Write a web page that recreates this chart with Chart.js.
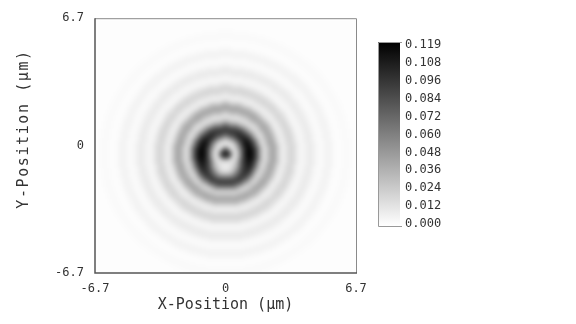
<!DOCTYPE html>
<html>
<head>
<meta charset="utf-8">
<script src="https://cdn.jsdelivr.net/npm/chart.js@4.4.1/dist/chart.umd.min.js"></script>
<style>
  body { margin: 0; background: #fff; }
  #wrap { width: 576px; height: 324px; }
</style>
</head>
<body>
<div id="wrap"><canvas id="field" width="576" height="324"></canvas></div>
<script>
// axis range (µm) and tick labels
const axisMin = -6.7;
const axisMax = 6.7;
const axisTicks = [-6.7, 0, 6.7];

// colour scale
const colorMax = 0.119;
const colorTicks = ['0.119', '0.108', '0.096', '0.084', '0.072', '0.060', '0.048', '0.036', '0.024', '0.012', '0.000'];

// spot centre (µm)
const centerX = 0.0;
const centerY = -0.44;

// intensity cross-sections, one sample every 0.2 µm from the centre
const radiusStep = 0.2;
const profileSide = [0.119, 0.095, 0.015, 0.020, 0.065, 0.105, 0.119, 0.110, 0.080, 0.035,
  0.012, 0.030, 0.044, 0.033, 0.012, 0.007, 0.016, 0.020, 0.013, 0.004,
  0.004, 0.009, 0.010, 0.005, 0.002, 0.003, 0.006, 0.005, 0.002, 0.001,
  0.002, 0.003, 0.002, 0.001, 0.001, 0.001];
const profileUp = [0.119, 0.090, 0.018, 0.010, 0.035, 0.075, 0.092, 0.080, 0.045, 0.018,
  0.014, 0.032, 0.044, 0.033, 0.012, 0.007, 0.016, 0.020, 0.013, 0.004,
  0.004, 0.009, 0.010, 0.005, 0.002, 0.003, 0.006, 0.005, 0.002, 0.001,
  0.002, 0.003, 0.002, 0.001, 0.001, 0.001];
const profileDown = [0.119, 0.090, 0.018, 0.010, 0.008, 0.018, 0.050, 0.085, 0.090, 0.058,
  0.020, 0.028, 0.042, 0.033, 0.012, 0.007, 0.016, 0.020, 0.013, 0.004,
  0.004, 0.009, 0.010, 0.005, 0.002, 0.003, 0.006, 0.005, 0.002, 0.001,
  0.002, 0.003, 0.002, 0.001, 0.001, 0.001];

const FONT = '"DejaVu Sans Mono", "Liberation Mono", monospace';

function grayFor(v) {
  let t = Math.max(0, Math.min(1, v / colorMax));
  let g = Math.round(255 * (1 - t));
  return [g, g, g];
}

function lookup(profile, r) {
  let i = Math.round(r / radiusStep);
  if (i >= profile.length) i = profile.length - 1;
  return profile[i];
}

// cells of 0.1 µm, each takes the nearest profile sample
const cellSize = 0.1;
const cells = Math.round((axisMax - axisMin) / cellSize);
const cellCanvas = document.createElement('canvas');
cellCanvas.width = cells;
cellCanvas.height = cells;
(function buildCells() {
  const c = cellCanvas.getContext('2d');
  const img = c.createImageData(cells, cells);
  for (let row = 0; row < cells; row++) {
    const y = axisMax - (row + 0.5) * cellSize;
    for (let col = 0; col < cells; col++) {
      const x = axisMin + (col + 0.5) * cellSize;
      const dx = x - centerX, dy = y - centerY;
      const r = Math.sqrt(dx * dx + dy * dy);
      const w = r > 0 ? (dy * dy) / (r * r) : 0;
      const vert = dy >= 0 ? lookup(profileUp, r) : lookup(profileDown, r);
      const v = (1 - w) * lookup(profileSide, r) + w * vert;
      const g = grayFor(v);
      const k = (row * cells + col) * 4;
      img.data[k] = g[0]; img.data[k + 1] = g[1]; img.data[k + 2] = g[2]; img.data[k + 3] = 255;
    }
  }
  c.putImageData(img, 0, 0);
})();

const heatmapPlugin = {
  id: 'heatmap',
  beforeDatasetsDraw(chart) {
    const ctx = chart.ctx;
    const xs = chart.scales.x, ys = chart.scales.y;
    const a = chart.chartArea;
    const x0 = xs.getPixelForValue(axisMin), x1 = xs.getPixelForValue(axisMax);
    const y0 = ys.getPixelForValue(axisMax), y1 = ys.getPixelForValue(axisMin);
    ctx.save();
    ctx.beginPath();
    ctx.rect(a.left, a.top, a.right - a.left, a.bottom - a.top);
    ctx.clip();
    ctx.fillStyle = '#fff';
    ctx.fillRect(a.left, a.top, a.right - a.left, a.bottom - a.top);
    ctx.imageSmoothingEnabled = true;
    ctx.imageSmoothingQuality = 'high';
    ctx.filter = 'blur(2.6px)';
    ctx.drawImage(cellCanvas, x0, y0, x1 - x0, y1 - y0);
    ctx.restore();
  },
  afterDraw(chart) {
    const ctx = chart.ctx;
    const a = chart.chartArea;
    ctx.save();
    // frame
    ctx.lineWidth = 1;
    ctx.strokeStyle = '#8a8a8a';
    ctx.beginPath();
    ctx.moveTo(a.left, a.top + 0.5);
    ctx.lineTo(a.right + 0.5, a.top + 0.5);
    ctx.lineTo(a.right + 0.5, a.bottom);
    ctx.stroke();
    ctx.strokeStyle = '#555';
    ctx.lineWidth = 1.5;
    ctx.beginPath();
    ctx.moveTo(a.left, a.top);
    ctx.lineTo(a.left, a.bottom);
    ctx.lineTo(a.right + 1, a.bottom);
    ctx.stroke();

    // y title
    ctx.fillStyle = '#333';
    ctx.font = '15px ' + FONT;
    if ('letterSpacing' in ctx) ctx.letterSpacing = '1.6px';
    ctx.textAlign = 'center';
    ctx.textBaseline = 'middle';
    ctx.translate(24, 129);
    ctx.rotate(-Math.PI / 2);
    ctx.fillText('Y-Position (µm)', 0, 0);
    ctx.restore();

    // colour bar
    const bx = 378, bw = 22, by = 42, bh = 184;
    ctx.save();
    const grad = ctx.createLinearGradient(0, by, 0, by + bh);
    const top = grayFor(colorMax), bot = grayFor(0);
    grad.addColorStop(0, 'rgb(' + top.join(',') + ')');
    grad.addColorStop(1, 'rgb(' + bot.join(',') + ')');
    ctx.fillStyle = grad;
    ctx.fillRect(bx, by, bw, bh);
    ctx.strokeStyle = '#999';
    ctx.lineWidth = 1;
    ctx.beginPath();
    ctx.moveTo(bx + bw + 2, by + 0.5);
    ctx.lineTo(bx + 0.5, by + 0.5);
    ctx.lineTo(bx + 0.5, by + bh + 0.5);
    ctx.lineTo(bx + bw + 2, by + bh + 0.5);
    ctx.stroke();
    ctx.fillStyle = '#333';
    ctx.font = '12px ' + FONT;
    ctx.textAlign = 'left';
    ctx.textBaseline = 'middle';
    const ly0 = 45, ly1 = 224;
    colorTicks.forEach(function(label, i) {
      const ly = ly0 + (ly1 - ly0) * i / (colorTicks.length - 1);
      ctx.fillText(label, 405, ly);
    });
    ctx.restore();
  }
};

function fixedTicks(scale) {
  scale.ticks = axisTicks.map(function(v) { return { value: v }; });
}

new Chart(document.getElementById('field'), {
  type: 'scatter',
  data: { datasets: [{ data: [], pointRadius: 0 }] },
  options: {
    responsive: false,
    animation: false,
    layout: { padding: { top: 14, right: 220, left: 0, bottom: 0 } },
    plugins: { legend: { display: false }, tooltip: { enabled: false } },
    scales: {
      x: {
        type: 'linear',
        min: axisMin,
        max: axisMax,
        afterBuildTicks: fixedTicks,
        afterFit: function(scale) { scale.height = 51; },
        grid: { display: false, drawTicks: false },
        border: { display: false },
        ticks: {
          padding: 9,
          color: '#333',
          font: { family: FONT, size: 12 },
          maxRotation: 0,
          callback: function(v) { return v === 0 ? '0' : v.toFixed(1); }
        },
        title: {
          display: true,
          text: 'X-Position (µm)',
          color: '#333',
          font: { family: FONT, size: 15 },
          padding: { top: 0, bottom: 10 }
        }
      },
      y: {
        type: 'linear',
        min: axisMin,
        max: axisMax,
        afterBuildTicks: fixedTicks,
        afterFit: function(scale) { scale.width = 95; },
        grid: { display: false, drawTicks: false },
        border: { display: false },
        ticks: {
          padding: 11,
          color: '#333',
          font: { family: FONT, size: 12 },
          callback: function(v) { return v === 0 ? '0' : v.toFixed(1); }
        }
      }
    }
  },
  plugins: [heatmapPlugin]
});
</script>
</body>
</html>
